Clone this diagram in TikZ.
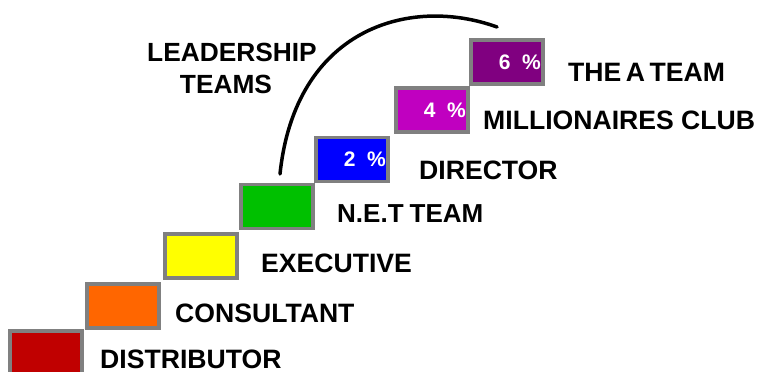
\documentclass[tikz,border=0pt]{standalone}
\usepackage{fontspec}
\setmainfont{Liberation Sans}
\definecolor{cdist}{RGB}{192,0,0}
\definecolor{ccons}{RGB}{255,102,0}
\definecolor{cyell}{RGB}{255,255,0}
\definecolor{cgreen}{RGB}{0,192,0}
\definecolor{cblue}{RGB}{0,0,255}
\definecolor{cmil}{RGB}{192,0,192}
\definecolor{cateam}{RGB}{128,0,128}
\definecolor{cedge}{RGB}{128,128,128}
\newcommand{\pct}[1]{\makebox[72pt][r]{#1\ \ \%\hspace{2pt}}}
\tikzset{
 stepbox/.style={draw=cedge,line width=3.7pt,minimum width=72pt,minimum height=44pt,inner sep=0pt,anchor=north west,text=white,font=\bfseries\fontsize{21}{24}\selectfont},
 lab/.style={anchor=west,inner sep=0pt,font=\bfseries\fontsize{26.6}{30}\selectfont,text=black}
}
\begin{document}
\begin{tikzpicture}[x=1pt,y=-1pt]
\useasboundingbox (0,0) rectangle (758,372);
\node[stepbox,fill=cdist] (s1) at (8,329) {};
\node[stepbox,fill=ccons] (s2) at (85,282) {};
\node[stepbox,fill=cyell] (s3) at (163,232) {};
\node[stepbox,fill=cgreen] (s4) at (239,182.5) {};
\node[stepbox,fill=cblue] (s5) at (314,135.5) {\pct{2}};
\node[stepbox,fill=cmil] (s6) at (394,86) {\pct{4}};
\node[stepbox,fill=cateam] (s7) at (469,38) {\pct{6}};
\node[lab] (l1) at (100,359.5) {DISTRIBUTOR};
\node[lab] (l2) at (175,313) {CONSULTANT};
\node[lab] (l3) at (261,263) {EXECUTIVE};
\node[lab,font=\bfseries\fontsize{26}{30}\selectfont] (l4) at (337,214) {N.E.T\hspace{6pt}TEAM};
\node[lab] (l5) at (419,170) {DIRECTOR};
\node[lab] (l6) at (483,120) {MILLIONAIRES CLUB};
\node[lab] (l7) at (568,72) {THE\hspace{4.5pt}A\hspace{4.5pt}TEAM};
\node[font=\bfseries\fontsize{26.3}{32}\selectfont,align=center,inner sep=0pt] (t) at (232,68) {LEADERSHIP\\TEAMS\hspace*{12pt}};
\coordinate (a) at (280,174);
\coordinate (b) at (497,27);
\draw[line width=3.5pt,line cap=round] (a) .. controls (295,30) and (408,-5) .. (b);
\end{tikzpicture}
\end{document}
